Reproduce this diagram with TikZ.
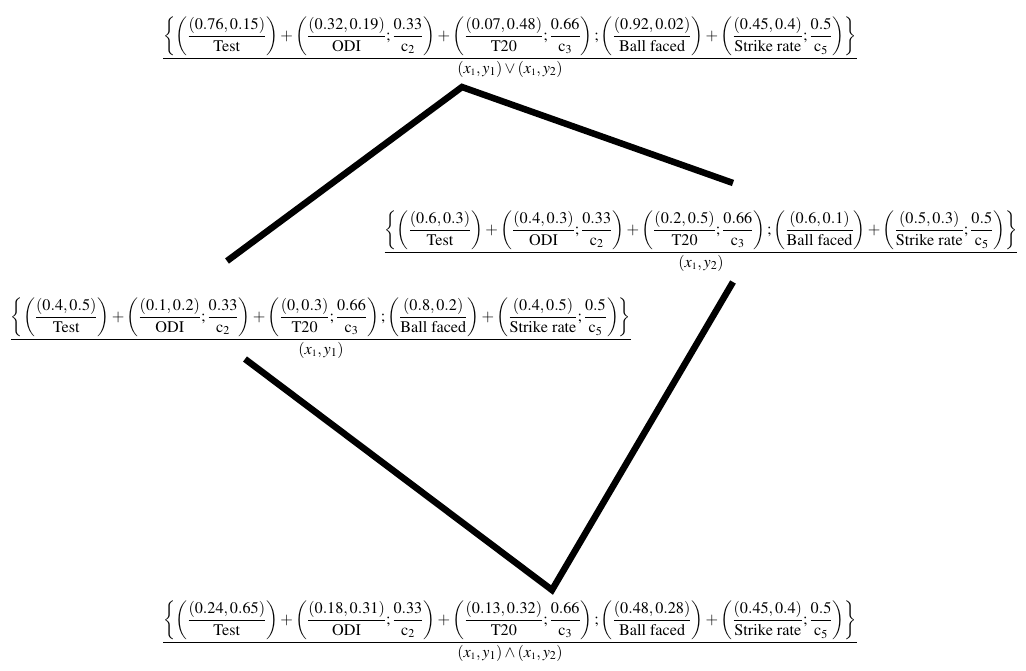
\documentclass[tikz,border=0pt]{standalone}
\usepackage{amsmath}
\usepackage{mathptmx}
\usepackage{fontspec}
\setmainfont{Liberation Serif}
\newcommand{\xone}{x_{\scriptscriptstyle 1}}
\newcommand{\tightsp}{\medmuskip=2.5mu\relax\thinmuskip=2mu\relax}
\newcommand{\bigexpr}[5]{\left\{\left(\dfrac{#1}{\mathrm{Test}}\right)+\left(\dfrac{#2}{\mathrm{ODI}};\dfrac{0.33}{\mathrm{c}_2}\right)+\left(\dfrac{#3}{\mathrm{T20}};\dfrac{0.66}{\mathrm{c}_3}\right);\left(\dfrac{#4}{\mathrm{Ball\ faced}}\right)+\left(\dfrac{#5}{\mathrm{Strike\ rate}};\dfrac{0.5}{\mathrm{c}_5}\right)\right\}}
\begin{document}
\begin{tikzpicture}[x=1pt,y=-1pt,
  expr/.style={inner sep=0pt, anchor=base, font=\fontsize{16.2}{20}\selectfont\tightsp},
  edge/.style={line width=6.5pt, line join=miter}]
\useasboundingbox (0,0) rectangle (1026,670);
\node[expr] (top) at (510,62) {$\dfrac{\bigexpr{(0.76,0.15)}{(0.32,0.19)}{(0.07,0.48)}{(0.92,0.02)}{(0.45,0.4)}}{(\xone,y_1)\vee(\xone,y_2)}$};
\node[expr] (right) at (701,256) {$\dfrac{\bigexpr{(0.6,0.3)}{(0.4,0.3)}{(0.2,0.5)}{(0.6,0.1)}{(0.5,0.3)}}{(\xone,y_2)}$};
\node[expr] (left) at (321,343) {$\dfrac{\bigexpr{(0.4,0.5)}{(0.1,0.2)}{(0,0.3)}{(0.8,0.2)}{(0.4,0.5)}}{(\xone,y_1)}$};
\node[expr] (bottom) at (510,646) {$\dfrac{\bigexpr{(0.24,0.65)}{(0.18,0.31)}{(0.13,0.32)}{(0.48,0.28)}{(0.45,0.4)}}{(\xone,y_1)\wedge(\xone,y_2)}$};
\coordinate (apex) at (462,87);
\coordinate (vtx) at (552,590);
\coordinate (lt) at (227,261);
\coordinate (rt) at (733,183);
\coordinate (rb) at (733,282);
\coordinate (lb) at (245,359);
\draw[edge] (lt) -- (apex) -- (rt);
\draw[edge] (lb) -- (vtx) -- (rb);
\end{tikzpicture}
\end{document}
